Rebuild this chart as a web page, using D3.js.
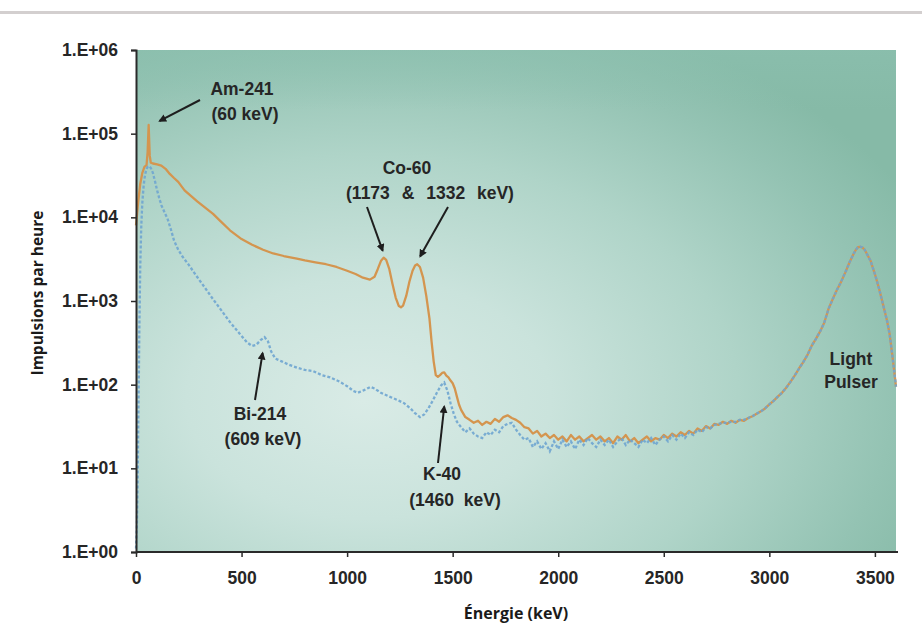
<!DOCTYPE html>
<html>
<head>
<meta charset="utf-8">
<script src="https://cdn.jsdelivr.net/npm/d3@7/dist/d3.min.js"></script>
<style>
  html, body { margin: 0; padding: 0; background: #ffffff; }
  svg { display: block; }
</style>
</head>
<body>
<svg id="chart" width="922" height="625"></svg>
<script>
// Spectre gamma : source (orange) et bruit de fond (bleu), impulsions par heure.

// Tick values
const xTicks = [0, 500, 1000, 1500, 2000, 2500, 3000, 3500];
const yTicks = [1, 10, 100, 1000, 10000, 100000, 1000000];
const yTickLabels = ["1.E+00", "1.E+01", "1.E+02", "1.E+03", "1.E+04", "1.E+05", "1.E+06"];

// Source spectrum (keV, counts/h)
const sourceEnergy = [0,10,20,30,40,50,55,58,60,62,65,70,80,100,120,140,160,180,200,230,260,290,320,365,400,445,500,550,602,650,700,762,800,850,900,950,1000,1040,1075,1108,
  1130,1145,1160,1173,1185,1200,1215,1230,1245,1255,1265,1280,1295,1310,1322,1332,1345,1360,1375,1390,1400,1410,1420,1430,1440,1450,1460,1470,1480,1490,1500,1510,1520,1530,
  1540,1560,1580,1600,1620,1640,1660,1680,1700,1720,1740,1760,1780,1800,1820,1840,1860,1880,1900,1920,1940,1960,1980,2000,2020,2040,2060,2080,2100,2120,2140,2160,2180,2200,2220,2240,2260,2280,2300,2320,2340,2360,2380,2400,2420,2440,2460,2480,2500,2520,2540,2560,2580,2600,2620,2640,2660,2680,2700,2720,2740,2760,2780,2800,2820,2840,2860,2880,2900,2920,2940,2960,2980,3000,3020,3040,3060,3080,3100,3120,3140,3160,3180,3200,3220,3240,3260,3280,3300,3320,3340,3360,3380,3400,3410,3420,3430,3440,3450,3460,3480,3500,3520,3540,3557,3570,3585,3600];
const sourceCounts = [8000,15000,25000,34000,40000,42000,60000,95000,127000,90000,55000,45000,44000,43000,41500,38000,33000,29500,26500,21000,18000,15500,13500,11000,9000,7000,5500,4700,4100,3700,3450,3200,3050,2900,2750,2550,2300,2100,1900,1800,
  1950,2400,3000,3300,3100,2400,1600,1100,870,840,880,1150,1700,2300,2650,2750,2550,1900,1150,620,330,190,130,124,130,138,140,128,122,112,104,90,72,58,
  50,41,38,35,37,33,36,34,39,36,41,43,40,38,35,31,30,26,28,24,26,23,25,22,24,21,25,22,24,21,23,25,22,24,21,23,20,24,22,25,21,23,20,22,24,21,23,22,25,23,26,24,27,25,28,26,30,28,32,30,34,33,36,34,37,35,38,37,40,42,45,48,52,58,64,72,80,92,108,128,155,185,225,290,350,430,550,800,1050,1350,1700,2200,2900,3700,4100,4400,4450,4380,4150,3750,3000,2100,1400,880,590,400,200,95];

// Background spectrum (keV, counts/h)
const backgroundEnergy = [0,4,8,12,16,20,25,30,35,40,45,50,55,60,70,80,90,100,110,120,135,150,165,180,200,220,250,289,330,365,400,445,490,526,550,570,590,609,625,640,660,690,720,762,800,840,880,919,960,1000,1030,1050,1080,1110,1130,1160,1200,1236,1270,1300,1320,1345,1365,1385,1405,1425,1445,1460,1475,1490,1505,1520,
  1540,1560,1580,1600,1620,1640,1660,1680,1700,1720,1740,1760,1780,1800,1820,1840,1860,1880,1900,1920,1940,1960,1980,2000,2020,2040,2060,2080,2100,2120,2140,2160,2180,2200,2220,2240,2260,2280,2300,2320,2340,2360,2380,2400,2420,2440,2460,2480,2500,2520,2540,2560,2580,2600,2620,2640,2660,2680,2700,2720,2740,2760,2780,2800,2820,2840,2860,2880,2900,2920,2940,2960,2980,3000,3020,3040,3060,3080,3100,3120,3140,3160,3180,3200,3220,3240,3260,3280,3300,3320,3340,3360,3380,3400,3410,3420,3430,3440,3450,3460,3480,3500,3520,3540,3557,3570,3585,3600];
const backgroundCounts = [1.1,2,8,60,500,2500,8000,15000,22000,29000,34000,38000,40000,41000,39000,34000,27000,21000,17000,14000,11500,9500,7200,5300,4100,3400,2700,1950,1400,1050,800,560,410,320,290,300,340,370,330,250,205,190,175,160,150,145,130,122,110,96,84,80,86,94,90,80,72,66,60,52,46,41,44,52,64,80,98,106,85,60,45,36,
  31,27,30,26,24,23,27,25,29,27,32,34,35,29,25,22,23,18,21,17,20,16,21,17,22,18,21,17,22,19,23,20,18,22,19,22,18,21,23,19,22,20,18,22,20,23,19,22,24,21,25,22,26,23,27,25,29,27,31,30,33,34,35,35,36,36,38,38,40,42,45,48,52,58,64,72,80,92,108,128,155,185,225,290,350,430,550,800,1050,1350,1700,2200,2900,3700,4100,4400,4450,4380,4150,3750,3000,2100,1400,880,590,400,200,95];

// Peak annotations
const peakNames = ["Am-241", "Co-60", "Co-60", "Bi-214", "K-40"];
const peakEnergy = [60, 1173, 1332, 609, 1460];
const peakCounts = [127000, 3300, 2750, 370, 106];

const svg = d3.select("#chart");
const W = 922, H = 625;
const m = { left: 136, right: 896, top: 50, bottom: 552 };

const x = d3.scaleLinear().domain([0, 3600]).range([m.left, m.right]);
const y = d3.scaleLog().domain([1, 1e6]).range([m.bottom, m.top]);

const defs = svg.append("defs");
const grad = defs.append("radialGradient").attr("id", "bg")
  .attr("cx", "32%").attr("cy", "68%").attr("r", "80%").attr("fx", "30%").attr("fy", "70%");
[["0%", "#d9ebe6"], ["30%", "#cae3dc"], ["60%", "#afd4c8"], ["85%", "#94c3b3"], ["100%", "#86baa7"]]
  .forEach(([o, c]) => grad.append("stop").attr("offset", o).attr("stop-color", c));
const topShade = defs.append("linearGradient").attr("id", "topShade").attr("x1", 0).attr("y1", 0).attr("x2", 0).attr("y2", 1);
topShade.append("stop").attr("offset", "0%").attr("stop-color", "#8cc0af").attr("stop-opacity", 0.6);
topShade.append("stop").attr("offset", "12%").attr("stop-color", "#8cc0af").attr("stop-opacity", 0);
topShade.append("stop").attr("offset", "100%").attr("stop-color", "#8cc0af").attr("stop-opacity", 0);

defs.append("marker").attr("id", "head")
  .attr("viewBox", "0 0 10 10").attr("refX", 8).attr("refY", 5)
  .attr("markerWidth", 4).attr("markerHeight", 4).attr("orient", "auto")
  .append("path").attr("d", "M0,0 L10,5 L0,10 Z").attr("fill", "#1e1e1e");

// page frame line
svg.append("rect").attr("x", 0).attr("y", 11).attr("width", W).attr("height", 3).attr("fill", "#d3cfcf");

// plot background
svg.append("rect").attr("x", m.left).attr("y", m.top).attr("width", m.right - m.left).attr("height", m.bottom - m.top).attr("fill", "url(#bg)");
svg.append("rect").attr("x", m.left).attr("y", m.top).attr("width", m.right - m.left).attr("height", m.bottom - m.top).attr("fill", "url(#topShade)");

// spectra
const line = d3.line().x(d => x(d[0])).y(d => y(d[1]));
const source = sourceEnergy.map((e, i) => [e, sourceCounts[i]]);
const background = backgroundEnergy.map((e, i) => [e, backgroundCounts[i]]);

svg.append("path").datum(source).attr("d", line)
  .attr("fill", "none").attr("stroke", "#d4954f").attr("stroke-width", 2.3).attr("stroke-linejoin", "round");
svg.append("path").datum(background).attr("d", line)
  .attr("fill", "none").attr("stroke", "#6fa5d0").attr("stroke-width", 2.3)
  .attr("stroke-dasharray", "3,2").attr("opacity", 0.9);

// axes
const axisColor = "#2a2a2a";
const tickFont = "Liberation Sans, Arial, sans-serif";
const gy = svg.append("g").attr("transform", `translate(${m.left},0)`)
  .call(d3.axisLeft(y).tickValues(yTicks).tickFormat((d, i) => yTickLabels[i]).tickSize(5).tickPadding(13));
const gx = svg.append("g").attr("transform", `translate(0,${m.bottom})`)
  .call(d3.axisBottom(x).tickValues(xTicks).tickFormat(d3.format("d")).tickSize(5).tickPadding(15));
[gx, gy].forEach(g => {
  g.select(".domain").attr("stroke", axisColor).attr("stroke-width", 2);
  g.selectAll(".tick line").attr("stroke", axisColor).attr("stroke-width", 1.5);
  g.selectAll("text").attr("fill", "#262626").attr("font-family", tickFont).attr("font-weight", 700).attr("font-size", 17.5);
});
gx.select(".domain").attr("d", `M${m.left},0H${m.right + 2}`);

// axis titles
svg.append("text").attr("x", (m.left + m.right) / 2).attr("y", 619)
  .attr("text-anchor", "middle").attr("font-family", "Open Sans, sans-serif").attr("font-weight", 700)
  .attr("font-size", 16).attr("fill", "#1a1a1a").text("Énergie (keV)");
svg.append("text").attr("transform", `translate(43,${(m.top + m.bottom) / 2 - 8}) rotate(-90)`)
  .attr("text-anchor", "middle").attr("font-family", "Open Sans, sans-serif").attr("font-weight", 700)
  .attr("font-size", 15.5).attr("fill", "#1a1a1a").text("Impulsions par heure");

// annotation layout: text lines, anchors, arrow tail and tip offset from the peak
const noteFont = "Liberation Sans, Arial, sans-serif";
function note(lines, tail, peakIdx, tipOffset) {
  lines.forEach(l => {
    svg.append("text").attr("x", l[1]).attr("y", l[2]).attr("text-anchor", "middle")
      .attr("font-family", noteFont).attr("font-weight", 700).attr("font-size", 17.5).attr("fill", "#262626")
      .attr("word-spacing", l[3] || 0).style("white-space", "pre").text(l[0]);
  });
  if (peakIdx != null) {
    const tx = x(peakEnergy[peakIdx]) + tipOffset[0];
    const ty = y(peakCounts[peakIdx]) + tipOffset[1];
    svg.append("line").attr("x1", tail[0]).attr("y1", tail[1]).attr("x2", tx).attr("y2", ty)
      .attr("stroke", "#1e1e1e").attr("stroke-width", 2).attr("marker-end", "url(#head)");
  }
}

note([[peakNames[0], 242, 95], ["(60 keV)", 245, 120]], [200, 100], 0, [11, -4]);
note([[peakNames[1], 407, 174], ["(1173 & 1332 keV)", 430, 199, 7]], [367, 207], 1, [-1, -7]);
note([], [448, 207], 2, [3, -8]);
note([[peakNames[3], 260, 420], ["(609 keV)", 263, 445]], [255, 400], 3, [-2, 16]);
note([[peakNames[4], 442, 480], ["(1460 keV)", 455, 506, 5]], [438, 463], 4, [0, 24]);
note([["Light", 851, 365], ["Pulser", 851, 388]], null, null, null);
</script>
</body>
</html>
